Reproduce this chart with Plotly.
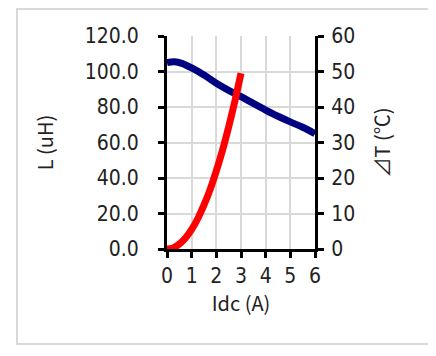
import plotly.graph_objects as go

# Inductance vs DC current
idc_l = [0, 0.3, 0.6, 1.0, 1.5, 2.0, 2.5, 3.0, 3.5, 4.0, 4.5, 5.0, 5.5, 6.0]
inductance = [105.0, 105.5, 104.6, 102.0, 98.0, 93.4, 89.4, 85.8, 82.0, 78.3, 74.8, 71.6, 68.6, 65.0]

# Temperature rise vs DC current
idc_t = [0, 0.25, 0.5, 0.75, 1.0, 1.25, 1.5, 1.75, 2.0, 2.25, 2.5, 2.75, 3.0]
delta_t = [0, 0.3, 1.4, 3.1, 5.5, 8.6, 12.4, 16.8, 22.0, 27.8, 34.4, 41.6, 49.5]

x_ticks = [0, 1, 2, 3, 4, 5, 6]
l_ticks = [0, 20, 40, 60, 80, 100, 120]
l_labels = ["0.0", "20.0", "40.0", "60.0", "80.0", "100.0", "120.0"]
t_ticks = [0, 10, 20, 30, 40, 50, 60]

font = "Noto Sans CJK JP"
tick_font = "DejaVu Sans Condensed, Noto Sans CJK JP"

fig = go.Figure()
fig.add_trace(go.Scatter(x=idc_l, y=inductance, mode="lines", line=dict(color="#000080", width=7, shape="spline"),
                         name="L", yaxis="y"))
fig.add_trace(go.Scatter(x=idc_t, y=delta_t, mode="lines", line=dict(color="#ff0000", width=7, shape="spline"),
                         name="dT", yaxis="y2"))

axis_common = dict(showline=True, linecolor="black", linewidth=3, ticks="outside", ticklen=6,
                   tickwidth=3, tickcolor="black", tickfont=dict(family=tick_font, size=21, color="#222"),
                   zeroline=False, automargin=False)

# the page puts the figure 8px in from the top-left corner
fig.update_layout(
    width=428, height=348,
    margin=dict(l=159, r=121, t=28, b=107),
    paper_bgcolor="white", plot_bgcolor="white",
    showlegend=False,
    font=dict(family=font, color="#222"),
    xaxis=dict(range=[0, 6], tickvals=x_ticks, showgrid=True, gridcolor="#d9d9d9", gridwidth=1.5,
               ticklabelstandoff=0,
               title=dict(text="Idc (A)", font=dict(size=20), standoff=7), **axis_common),
    yaxis=dict(range=[0, 120], tickvals=l_ticks, ticktext=l_labels, showgrid=True, gridcolor="#d9d9d9",
               gridwidth=1.5, ticklabelstandoff=15,
               title=dict(text="L (uH)", font=dict(size=20), standoff=26), **axis_common),
    yaxis2=dict(range=[0, 60], tickvals=t_ticks, overlaying="y", side="right", showgrid=False,
                ticklabelstandoff=3,
                title=dict(text="⊿T (℃)", font=dict(size=20), standoff=22), **axis_common),
    shapes=[dict(type="rect", xref="paper", yref="paper", x0=-150 / 148, x1=1 + 118 / 148,
                 y0=-95 / 213, y1=1 + 27 / 213, line=dict(color="#d9d9d9", width=2))],
)

fig.write_html("out.html")
